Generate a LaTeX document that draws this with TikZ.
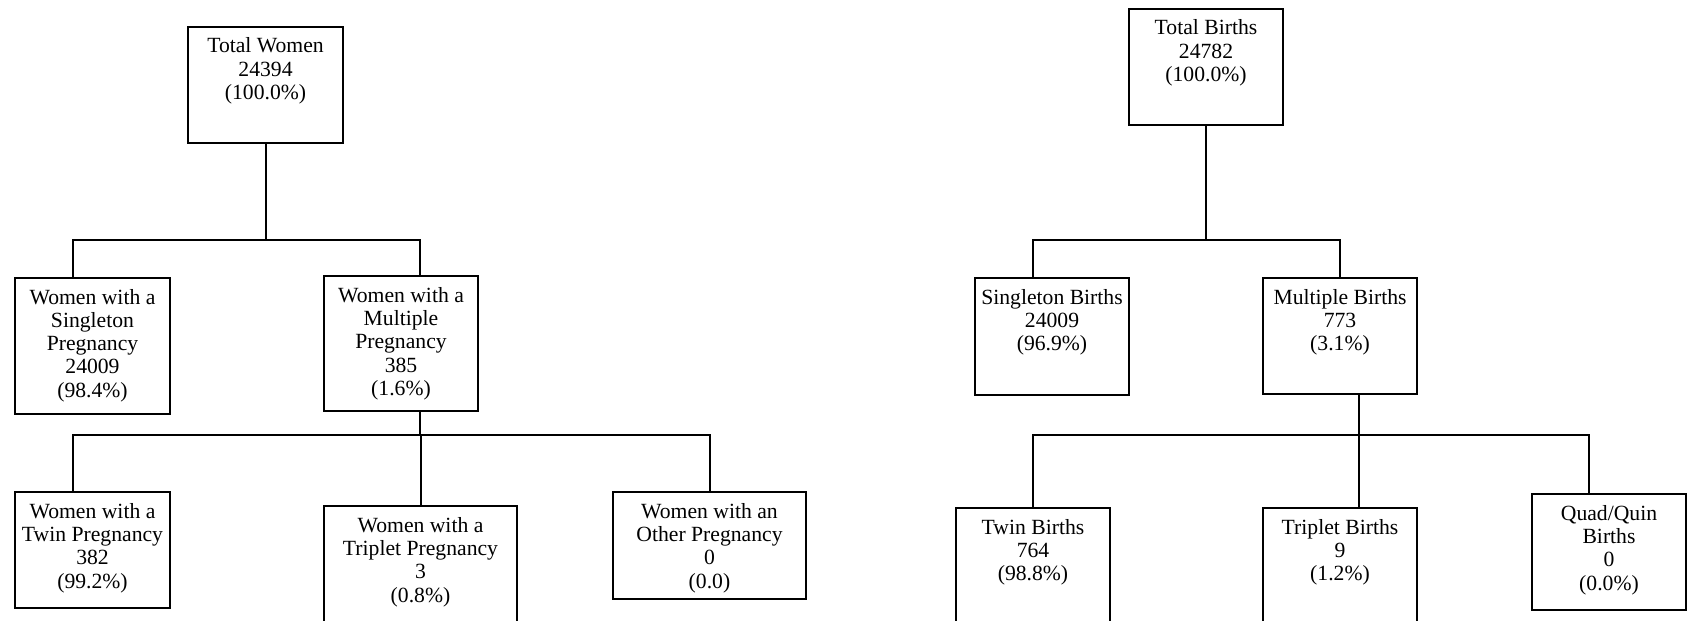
\documentclass[tikz,border=0pt]{standalone}
\usepackage{fontspec}
\setmainfont{Liberation Serif}
\usetikzlibrary{calc}

\newlength\pxu
\setlength\pxu{0.6pt}
% box content: width, height (in px), text lines
\newcommand\cellbox[3]{\parbox[c][#2\pxu][t]{#1\pxu}{\centering\rule{0pt}{26\pxu}#3\par}}

\begin{document}
\begin{tikzpicture}[
  x = 0.6pt,
  y = -0.6pt,
  line width = 1.2pt,
  box/.style = {
    shape = rectangle,
    draw,
    anchor = north west,
    inner sep = 0pt,
    outer sep = 0pt,
    font = \fontsize{13}{14}\selectfont,
  }
]
  \useasboundingbox (0, 0) rectangle (1692, 621);
  \clip (0, 0) rectangle (1692, 621);

  % women
  \node[box] (tw) at (188, 27) {\cellbox{155}{116}{Total Women\\24394\\(100.0\%)}};
  \node[box] (ws) at (15, 278) {\cellbox{155}{136}{Women with a\\Singleton\\Pregnancy\\24009\\(98.4\%)}};
  \node[box] (wm) at (324, 276) {\cellbox{154}{135}{Women with a\\Multiple\\Pregnancy\\385\\(1.6\%)}};
  \node[box] (wt) at (15, 492) {\cellbox{155}{116}{Women with a\\Twin Pregnancy\\382\\(99.2\%)}};
  \node[box] (wtr) at (324, 506) {\cellbox{193}{140}{Women with a\\Triplet Pregnancy\\3\\(0.8\%)}};
  \node[box] (wo) at (613, 492) {\cellbox{193}{107}{Women with an\\Other Pregnancy\\0\\(0.0)}};

  \coordinate (wbar1) at (0, 240);
  \coordinate (wbar2) at (0, 435);
  \coordinate (ws-in) at ($(ws.north west) + (58, 0)$);
  \coordinate (wm-in) at ($(wm.north west) + (96, 0)$);
  \coordinate (wm-out) at ($(wm.south west) + (96, 0)$);
  \coordinate (wt-in) at ($(wt.north west) + (58, 0)$);

  \draw (tw.south) -- (tw.south |- wbar1);
  \draw (ws-in) -- (ws-in |- wbar1) -- (wm-in |- wbar1) -- (wm-in);
  \draw (wm-out) -- (wm-out |- wbar2);
  \draw (wt-in) -- (wt-in |- wbar2) -- (wo.north |- wbar2) -- (wo.north);
  \draw (wtr.north) -- (wtr.north |- wbar2);

  % births
  \node[box] (tb) at (1129, 9) {\cellbox{154}{116}{Total Births\\24782\\(100.0\%)}};
  \node[box] (sb) at (975, 278) {\cellbox{154}{117}{Singleton Births\\24009\\(96.9\%)}};
  \node[box] (mb) at (1263, 278) {\cellbox{154}{116}{Multiple Births\\773\\(3.1\%)}};
  \node[box] (twb) at (956, 508) {\cellbox{154}{140}{Twin Births\\764\\(98.8\%)}};
  \node[box] (trb) at (1263, 508) {\cellbox{154}{140}{Triplet Births\\9\\(1.2\%)}};
  \node[box] (qq) at (1532, 494) {\cellbox{154}{116}{Quad/Quin\\Births\\0\\(0.0\%)}};

  \coordinate (bbar1) at (0, 240);
  \coordinate (bbar2) at (0, 435);
  \coordinate (sb-in) at ($(sb.north west) + (58, 0)$);
  \coordinate (mb-out) at ($(mb.south west) + (96, 0)$);
  \coordinate (trb-in) at ($(trb.north west) + (96, 0)$);
  \coordinate (qq-in) at ($(qq.north west) + (57, 0)$);

  \draw (tb.south) -- (tb.south |- bbar1);
  \draw (sb-in) -- (sb-in |- bbar1) -- (mb.north |- bbar1) -- (mb.north);
  \draw (mb-out) -- (mb-out |- bbar2);
  \draw (twb.north) -- (twb.north |- bbar2) -- (qq-in |- bbar2) -- (qq-in);
  \draw (trb-in) -- (trb-in |- bbar2);
\end{tikzpicture}
\end{document}
